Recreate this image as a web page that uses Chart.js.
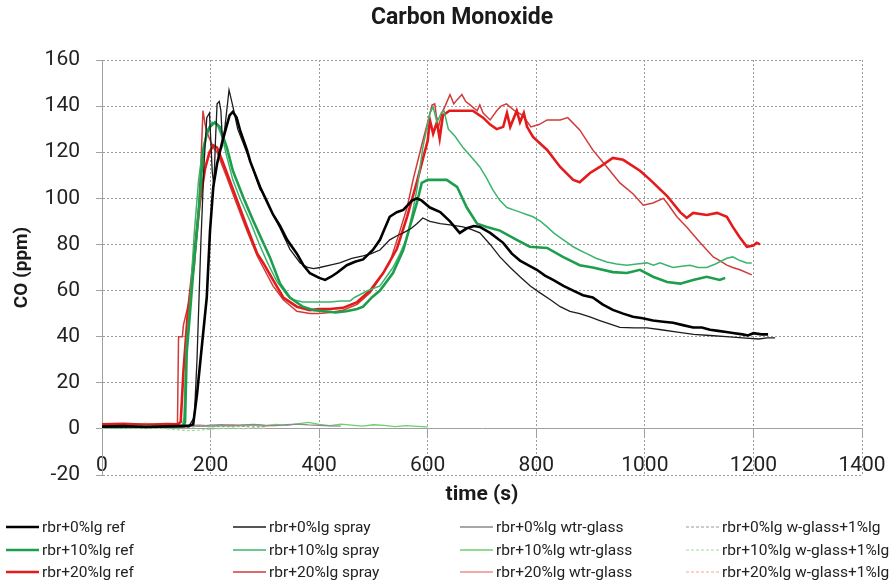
<!DOCTYPE html>
<html>
<head>
<meta charset="utf-8">
<title>Carbon Monoxide</title>
<script src="https://cdn.jsdelivr.net/npm/chart.js@4.4.1/dist/chart.umd.min.js"></script>
<style>
  html, body { margin: 0; padding: 0; background: #fff; }
  canvas { display: block; }
</style>
</head>
<body>
<canvas id="co" width="893" height="583"></canvas>
<script>
// CO (ppm) vs time (s) for each rubber / lignin mix and coating

// rbr+0%lg ref
const t0Ref = [0, 40, 80, 120, 160, 168, 175, 181, 187, 193, 199, 205, 212, 221, 228, 235, 241, 248, 255, 267, 273, 291, 303, 315, 328, 341, 359, 371, 383, 400, 411, 422, 433, 451, 466, 481, 499, 512, 521, 530, 543, 555, 571, 580, 589, 604, 623, 641, 659, 672, 685, 696, 715, 739, 755, 770, 785, 801, 816, 831, 850, 868, 886, 904, 922, 941, 960, 978, 996, 1015, 1034, 1052, 1070, 1089, 1105, 1120, 1135, 1150, 1165, 1180, 1190, 1200, 1215, 1227];
const co0Ref = [1.0, 1.2, 0.8, 1.1, 1.3, 2, 15, 29, 43, 57, 86, 105, 115, 124, 130, 136, 137.5, 135, 129, 121, 116, 105, 99, 93, 88, 82, 76, 71, 67.5, 65.5, 64.6, 66, 67.7, 71, 72.5, 73.5, 77.6, 82, 87, 92, 94, 95, 99, 100, 99, 96, 94, 90, 85, 87, 88, 87.6, 85, 80.7, 76, 73, 71, 69, 66.5, 64.6, 62, 60, 58, 57, 54, 51.6, 50, 48.6, 48, 47, 46.5, 46, 45, 44, 44, 43, 42.5, 42, 41.5, 41, 40.5, 41.5, 41, 41];

// rbr+0%lg spray
const t0Spray = [0, 40, 80, 120, 160, 170, 175, 182, 188, 193, 198, 203, 206, 209, 212, 216, 219, 222, 226, 234, 241, 250, 260, 273, 291, 297, 315, 328, 346, 365, 379, 390, 401, 420, 438, 460, 481, 496, 512, 530, 545, 555, 570, 580, 591, 604, 623, 641, 665, 680, 696, 715, 733, 752, 770, 789, 807, 826, 844, 862, 880, 900, 917, 935, 954, 980, 1004, 1030, 1060, 1090, 1120, 1150, 1180, 1210, 1225, 1240];
const co0Spray = [1.0, 0.9, 1.1, 1.0, 1.2, 5, 30, 80, 115, 135, 137, 112, 105, 125, 141, 142, 138, 124, 130, 147, 140, 130, 124, 116, 104, 102, 93, 87, 78, 72, 70, 69.5, 70, 71, 72, 74, 75, 76, 77.6, 82, 84, 85, 87, 89, 91.5, 90, 89, 88.5, 87.6, 86.5, 85, 80, 74.6, 70, 66, 62, 59, 56, 53, 51, 50, 48.5, 47, 45.5, 44, 43.8, 43.8, 43, 42, 41, 40.5, 40, 39.5, 39, 39.5, 39.5];

// rbr+10%lg ref
const t10Ref = [0, 40, 80, 120, 150, 153, 156, 162, 168, 175, 180, 186, 193, 199, 208, 217, 230, 241, 260, 278, 297, 309, 328, 346, 370, 390, 410, 430, 450, 470, 481, 497, 512, 536, 555, 567, 580, 589, 600, 620, 635, 654, 672, 691, 709, 733, 764, 788, 820, 849, 880, 904, 941, 967, 991, 1015, 1041, 1065, 1089, 1114, 1138, 1148];
const co10Ref = [1, 0.8, 1.1, 0.9, 1.0, 3, 33, 50, 68, 86, 100, 120, 128, 131, 133, 131, 122, 112, 100.6, 90.6, 80.7, 74.6, 63, 57, 53, 51.5, 51, 50.5, 51, 52, 53, 57, 60, 67.6, 77.6, 87.6, 98, 106.7, 108, 108, 108, 105, 96, 89, 87.6, 86, 82, 79, 78.5, 74.6, 71, 70, 68, 67.6, 69, 66, 63.7, 63, 64.6, 66, 64.6, 65.5];

// rbr+10%lg spray
const t10Spray = [0, 40, 80, 120, 148, 151, 155, 162, 170, 178, 186, 195, 203, 212, 222, 230, 241, 254, 273, 290, 305, 322, 341, 352, 370, 389, 420, 440, 457, 465, 490, 512, 536, 549, 562, 572, 580, 591, 604, 610, 617, 625, 630, 638, 650, 665, 680, 696, 708, 720, 733, 746, 758, 770, 782, 794, 808, 820, 832, 844, 856, 868, 880, 893, 910, 930, 948, 967, 985, 1004, 1016, 1028, 1040, 1052, 1068, 1083, 1098, 1114, 1130, 1151, 1162, 1175, 1188, 1197];
const co10Spray = [1, 1.2, 0.9, 1.1, 1, 5, 35, 55, 85, 108, 122, 130, 133, 132, 126, 118, 108, 100, 90, 80, 72, 64, 58, 56, 55, 55, 55, 55.5, 55.5, 57, 60, 62, 70, 76, 83, 94, 103.7, 122, 137, 139.6, 133, 137, 138, 130, 127, 122, 118, 113.6, 109, 103.7, 99, 96, 95, 94, 93, 92, 90, 87.6, 85, 83, 81, 79, 77.5, 76, 74, 72.4, 71.5, 71, 71.5, 72, 71, 72, 71, 70, 70.5, 71, 70, 70, 71.5, 74, 74.6, 73, 72, 72];

// rbr+20%lg ref
const t20Ref = [0, 40, 80, 120, 140, 145, 150, 158, 165, 172, 180, 190, 198, 205, 212, 222, 230, 249, 267, 286, 297, 315, 334, 359, 383, 400, 420, 444, 470, 494, 518, 543, 562, 580, 591, 600, 604, 610, 617, 622, 628, 640, 660, 683, 702, 715, 727, 739, 746, 752, 764, 770, 777, 783, 794, 820, 844, 868, 880, 899, 917, 941, 960, 991, 1010, 1041, 1065, 1077, 1089, 1114, 1133, 1151, 1162, 1175, 1188, 1200, 1206, 1212];
const co20Ref = [2, 2.2, 1.8, 2.1, 2, 3, 25, 50, 65, 80, 98, 113, 120, 123, 122, 116, 111, 99, 87.6, 76, 72, 64.6, 57, 53, 51.5, 52, 52, 52.5, 55, 60, 67.6, 78, 92, 107, 117, 125, 134, 128, 133, 126, 136, 138, 138, 138, 135, 132, 130, 131, 137, 131, 138, 133, 137, 131, 126.6, 121, 113.6, 108, 107, 111, 113.6, 117.5, 116.7, 112, 108, 101, 94, 91.5, 93.7, 92.8, 93.7, 92, 87.6, 83, 79, 79.5, 80.7, 80];

// rbr+20%lg spray
const t20Spray = [0, 40, 80, 120, 139, 141, 148, 150, 160, 170, 178, 183, 186, 190, 196, 205, 212, 230, 249, 267, 286, 297, 315, 334, 359, 383, 400, 420, 444, 470, 494, 518, 530, 549, 562, 573, 591, 600, 608, 613, 619, 626, 632, 641, 648, 654, 663, 670, 678, 691, 696, 702, 715, 727, 735, 745, 760, 775, 790, 805, 820, 844, 858, 880, 904, 930, 954, 978, 997, 1015, 1034, 1041, 1059, 1077, 1102, 1126, 1138, 1151, 1162, 1175, 1197];
const co20Spray = [2, 2.2, 1.8, 2, 2, 40, 40, 45, 55, 70, 95, 120, 138, 132, 127, 122, 120, 109, 97, 86, 75, 70, 62, 56, 51, 50, 50, 50.5, 51.5, 54, 59, 67.6, 72, 86, 96, 108, 125, 133, 140.5, 141, 130, 137, 140, 145, 141, 142.7, 145, 142, 140.5, 138, 140.5, 137, 134, 138, 140, 141, 138, 136, 131, 132, 134, 134, 135, 129.7, 121, 113.6, 106.7, 102, 97, 98, 100, 98, 92, 87.6, 80.7, 74.6, 73, 71, 70, 69, 66.8];

// water-glass and water-glass + 1% lignin coatings, sampled every 20 s
const tShort = [0, 20, 40, 60, 80, 100, 120, 140, 160, 180, 200, 220, 240, 260, 280, 300, 320, 340, 360, 380, 400, 420, 440, 460, 480, 500, 520, 540, 560, 580, 600];
const co0Wtr = [1.2, 1.0, 1.3, 1.1, 1.4, 1.2, 1.0, 1.3, 1.5, 1.2, 1.6, 1.8, 1.5, 1.7, 2.0, 1.6, 1.4, 1.8, 2.1, 1.7, 1.5, 1.3, 1.2];
const co10Wtr = [0.8, 1.0, 0.7, 1.1, 0.9, 1.2, 1.0, 0.6, 1.1, 1.3, 1.0, 1.4, 1.2, 1.5, 1.7, 1.3, 1.9, 1.5, 2.2, 2.8, 2.0, 1.4, 2.1, 1.6, 1.2, 1.8, 1.5, 1.0, 1.4, 1.1, 0.9];
const co20Wtr = [1.8, 2.2, 1.6, 2.0, 2.4, 1.8, 1.5, 1.9, 1.4, 1.7, 1.2, 1.5, 1.8, 1.3, 1.6, 1.2, 1.4];
const co0Wg = [0.9, 1.1, 0.8, 1.0, 1.2, 0.9, 1.1, 1.0, 0.7, 1.2, 0.9, 1.0, 1.3, 1.1, 0.8, 1.0];
const co10Wg = [0.3, 0.5, 0.2, 0.4, 0.1, 0.3, 0.0, -0.4, -0.8, -0.5, -0.2, 0.2, 0.4, 0.1, 0.3, 0.2];
const co20Wg = [1.5, 1.3, 1.7, 1.4, 1.6, 1.2, 1.5, 1.8, 1.3, 1.1, 1.5, 1.4, 1.2, 1.6, 1.3, 1.1];

const xRange = [0, 1400, 200];
const yRange = [-20, 160, 20];

const FONT = 'Roboto';

const pts = (ts, vs) => vs.map((v, i) => ({x: ts[i], y: v}));

const series = (label, ts, vs, color, width, dash) => ({
    label,
    data: pts(ts, vs),
    borderColor: color,
    backgroundColor: color,
    borderWidth: width,
    borderDash: dash || [],
    pointRadius: 0,
    tension: 0,
    fill: false
});

const dashed = [3, 2];

// four per row in the legend: ref, spray, wtr-glass, w-glass+1%lg
const datasets = [
    series('rbr+0%lg ref', t0Ref, co0Ref, '#000000', 2.6),
    series('rbr+0%lg spray', t0Spray, co0Spray, '#1c1c1c', 1.3),
    series('rbr+0%lg wtr-glass', tShort, co0Wtr, '#8a8a8a', 1.3),
    series('rbr+0%lg w-glass+1%lg', tShort, co0Wg, '#9a9a9a', 1.2, dashed),
    series('rbr+10%lg ref', t10Ref, co10Ref, '#1d9e4c', 2.6),
    series('rbr+10%lg spray', t10Spray, co10Spray, '#3cb46e', 1.5),
    series('rbr+10%lg wtr-glass', tShort, co10Wtr, '#6ccf6c', 1.3),
    series('rbr+10%lg w-glass+1%lg', tShort, co10Wg, '#9ede9e', 1.2, dashed),
    series('rbr+20%lg ref', t20Ref, co20Ref, '#e31b1b', 2.6),
    series('rbr+20%lg spray', t20Spray, co20Spray, '#d23a3a', 1.5),
    series('rbr+20%lg wtr-glass', tShort, co20Wtr, '#f08c8c', 1.3),
    series('rbr+20%lg w-glass+1%lg', tShort, co20Wg, '#f4a4a4', 1.2, dashed)
];

// chart title, centred a little left of the plot, and the 4 x 3 legend grid
const frame = {
    id: 'frame',
    afterDraw(chart) {
        const {ctx} = chart;
        ctx.save();
        ctx.fillStyle = '#1a1a1a';
        ctx.textAlign = 'center';
        ctx.textBaseline = 'middle';
        ctx.font = 'bold 23px ' + FONT;
        ctx.fillText('Carbon Monoxide', 462, 18);

        const colX = [6, 233, 460, 686];
        const rowY = [527, 550, 572];
        ctx.font = '15.5px ' + FONT;
        ctx.fillStyle = '#222';
        ctx.textAlign = 'left';
        chart.data.datasets.forEach((ds, i) => {
            const x = colX[i % 4];
            const y = rowY[Math.floor(i / 4)];
            ctx.beginPath();
            ctx.strokeStyle = ds.borderColor;
            ctx.lineWidth = ds.borderWidth;
            ctx.setLineDash(ds.borderDash);
            ctx.moveTo(x, y);
            ctx.lineTo(x + 33, y);
            ctx.stroke();
            ctx.fillText(ds.label, x + 36, y + 1);
        });
        ctx.restore();
    }
};

const gridColor = '#9c9c9c';
const axisColor = '#a0a0a0';
const plain = v => String(v);

new Chart(document.getElementById('co'), {
    type: 'line',
    data: {datasets},
    plugins: [frame],
    options: {
        responsive: false,
        animation: false,
        devicePixelRatio: 1,
        layout: {padding: {top: 60, left: 0, right: 31, bottom: 108}},
        plugins: {
            legend: {display: false},
            tooltip: {enabled: false},
            title: {display: false}
        },
        scales: {
            x: {
                type: 'linear',
                position: {y: 0},
                min: xRange[0],
                max: xRange[1],
                ticks: {
                    stepSize: xRange[2],
                    callback: plain,
                    color: '#222',
                    font: {family: FONT, size: 21},
                    padding: 16,
                    maxRotation: 0
                },
                grid: {color: gridColor, lineWidth: 1, tickLength: 8, tickColor: axisColor, tickBorderDash: []},
                border: {color: axisColor, width: 1, dash: [2, 2]},
                title: {
                    display: true,
                    text: 'time (s)',
                    color: '#1a1a1a',
                    font: {family: FONT, size: 21, weight: 'bold'},
                    padding: {top: -12, bottom: 0}
                },
                // the label padding would otherwise pull the plot's right edge in
                afterFit(scale) {
                    scale.paddingLeft = 0;
                    scale.paddingRight = 24;
                }
            },
            y: {
                min: yRange[0],
                max: yRange[1],
                ticks: {
                    stepSize: yRange[2],
                    callback: plain,
                    color: '#222',
                    font: {family: FONT, size: 21},
                    padding: 16
                },
                grid: {color: gridColor, lineWidth: 1, tickLength: 6, tickColor: axisColor, tickBorderDash: []},
                border: {color: axisColor, width: 1, dash: [2, 2]},
                title: {
                    display: true,
                    text: 'CO (ppm)',
                    color: '#1a1a1a',
                    font: {family: FONT, size: 19, weight: 'bold'},
                    padding: {top: 11, bottom: 0}
                },
                afterFit(scale) { scale.width = 102; }
            }
        }
    }
});
</script>
</body>
</html>
